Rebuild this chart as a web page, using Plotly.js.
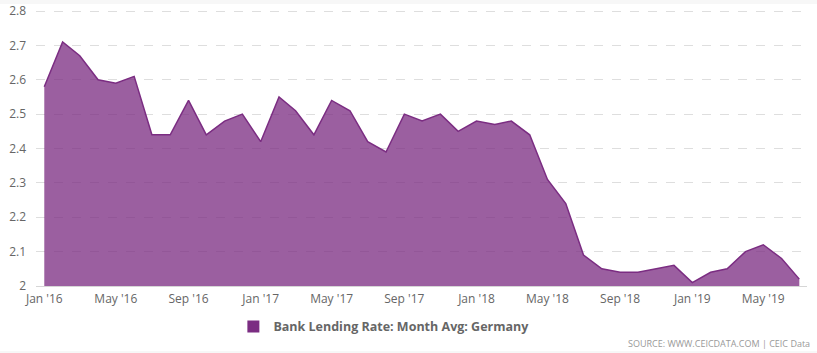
<!DOCTYPE html>
<html>
<head>
<meta charset="utf-8">
<script src="https://cdn.plot.ly/plotly-3.0.1.min.js"></script>
<style>
  html, body { margin: 0; padding: 0; background: #f7f7f7; }
  #chart { position: absolute; left: 0; top: 0; width: 817px; height: 351px; background: #fff; }
  #topstrip { position: absolute; left: 0; top: 0; width: 817px; height: 4px; background: #f7f7f7; z-index: 5; }
</style>
</head>
<body>
<div id="chart"></div>
<div id="topstrip"></div>
<script>
const months = [
  '2016-01-01','2016-02-01','2016-03-01','2016-04-01','2016-05-01','2016-06-01',
  '2016-07-01','2016-08-01','2016-09-01','2016-10-01','2016-11-01','2016-12-01',
  '2017-01-01','2017-02-01','2017-03-01','2017-04-01','2017-05-01','2017-06-01',
  '2017-07-01','2017-08-01','2017-09-01','2017-10-01','2017-11-01','2017-12-01',
  '2018-01-01','2018-02-01','2018-03-01','2018-04-01','2018-05-01','2018-06-01',
  '2018-07-01','2018-08-01','2018-09-01','2018-10-01','2018-11-01','2018-12-01',
  '2019-01-01','2019-02-01','2019-03-01','2019-04-01','2019-05-01','2019-06-01',
  '2019-07-01'
];
const rates = [
  2.58, 2.71, 2.67, 2.60, 2.59, 2.61,
  2.44, 2.44, 2.54, 2.44, 2.48, 2.50,
  2.42, 2.55, 2.51, 2.44, 2.54, 2.51,
  2.42, 2.39, 2.50, 2.48, 2.50, 2.45,
  2.48, 2.47, 2.48, 2.44, 2.31, 2.24,
  2.09, 2.05, 2.04, 2.04, 2.05, 2.06,
  2.01, 2.04, 2.05, 2.10, 2.12, 2.08,
  2.02
];
const tickDates = ['2016-01-01','2016-05-01','2016-09-01','2017-01-01','2017-05-01','2017-09-01',
                   '2018-01-01','2018-05-01','2018-09-01','2019-01-01','2019-05-01'];
const tickLabels = ["Jan '16","May '16","Sep '16","Jan '17","May '17","Sep '17",
                    "Jan '18","May '18","Sep '18","Jan '19","May '19"];
const yTicks = [2, 2.1, 2.2, 2.3, 2.4, 2.5, 2.6, 2.7, 2.8];
const yTickLabels = ['2', '2.1', '2.2', '2.3', '2.4', '2.5', '2.6', '2.7', '2.8'];
const seriesName = 'Bank Lending Rate: Month Avg: Germany';
const sourceText = 'SOURCE: WWW.CEICDATA.COM | CEIC Data';

const traces = [
  {
    x: months, y: rates, type: 'scatter', mode: 'lines',
    fill: 'tozeroy', fillcolor: 'rgba(123,45,130,0.76)',
    line: { color: '#7b2d82', width: 1.5 },
    showlegend: false, hoverinfo: 'x+y'
  },
  {
    x: [null], y: [null], type: 'scatter', mode: 'markers',
    marker: { symbol: 'square', size: 12, color: '#7b2d82' },
    name: seriesName, showlegend: true
  }
];

const layout = {
  width: 817, height: 351,
  margin: { l: 36, r: 10, t: 9, b: 65 },
  paper_bgcolor: '#ffffff', plot_bgcolor: '#ffffff',
  font: { family: 'Open Sans, sans-serif', size: 12, color: '#666666' },
  xaxis: {
    type: 'date',
    range: ['2015-12-18', '2019-07-14'],
    tickvals: tickDates, ticktext: tickLabels,
    showgrid: false, zeroline: false,
    showline: true, linecolor: '#d6d6d6', linewidth: 1,
    ticks: '', ticklabelstandoff: 2, ticklabeloverflow: 'allow',
    tickfont: { size: 12, color: '#666666' }
  },
  yaxis: {
    range: [2, 2.806],
    tickvals: yTicks, ticktext: yTickLabels,
    showgrid: true, gridcolor: '#dedede', griddash: 'dash', gridwidth: 1,
    zeroline: false, showline: false, ticks: '', ticklabelstandoff: 9,
    ticklabeloverflow: 'allow',
    tickfont: { size: 12, color: '#666666' }
  },
  showlegend: true,
  legend: {
    orientation: 'h', x: 0.256, xanchor: 'left', y: -0.148, yanchor: 'middle',
    font: { family: 'Open Sans, sans-serif', size: 12.5, color: '#666666', weight: 'bold' },
    bgcolor: 'rgba(0,0,0,0)', itemwidth: 30
  },
  annotations: [{
    text: sourceText, xref: 'paper', yref: 'paper',
    x: 1.006, xanchor: 'right', y: -0.209, yanchor: 'middle',
    showarrow: false, font: { family: 'Open Sans, sans-serif', size: 9, color: '#999999' }
  }]
};

Plotly.newPlot('chart', traces, layout, { displayModeBar: false, staticPlot: true });
</script>
</body>
</html>
